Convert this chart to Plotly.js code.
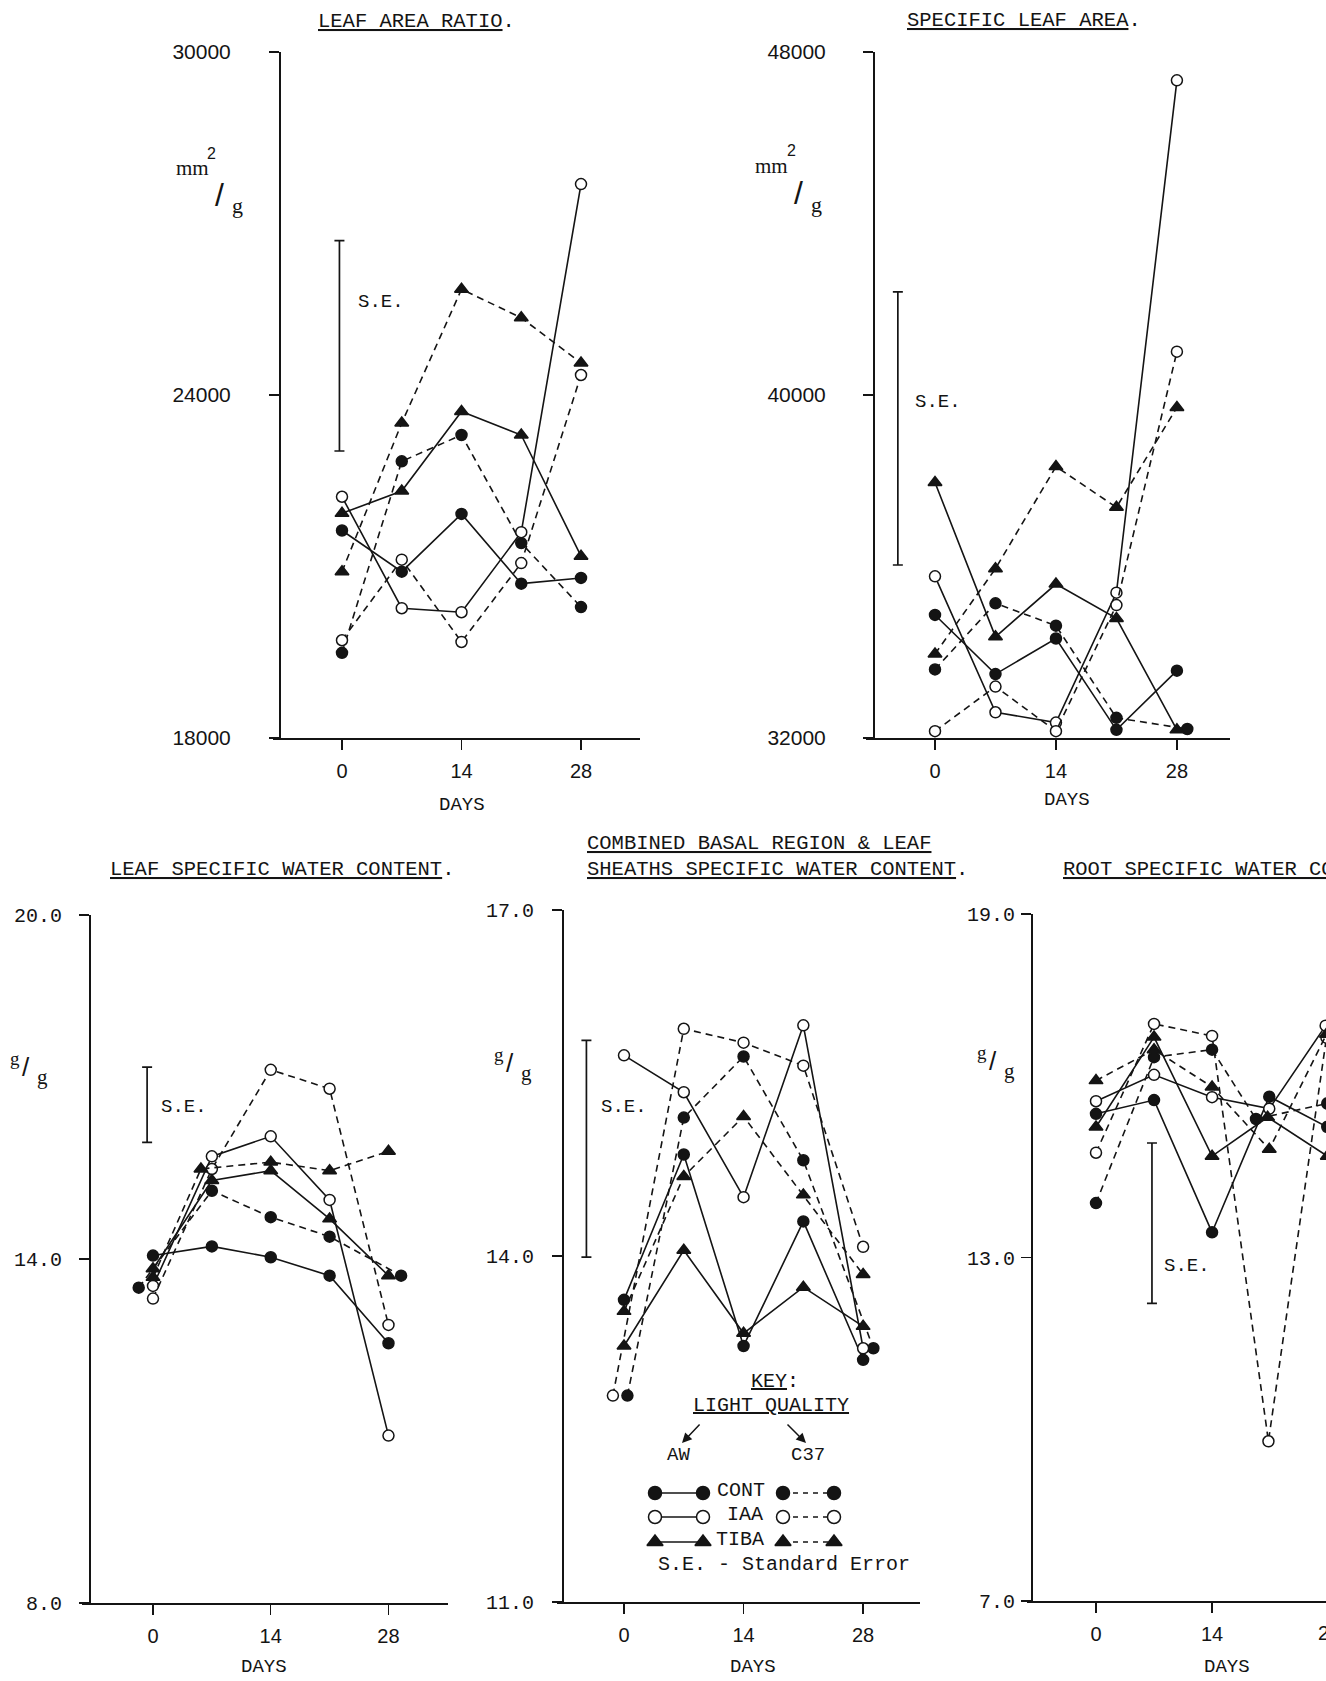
<!DOCTYPE html>
<html><head><meta charset="utf-8">
<script src="https://cdn.plot.ly/plotly-3.0.1.min.js"></script>
<style>html,body{margin:0;padding:0;background:#fff;overflow:hidden}#fig{width:1326px;height:1681px}</style>
</head><body><div id="fig"></div>
<script>
// ================= DATA =================
const days = [0, 7, 14, 21, 28];
const tickDays = [0, 14, 28];
const tickDayLabels = ['0', '14', '28'];

// Leaf area ratio (mm2/g)
const larContAW  = [21630, 20910, 21920, 20700, 20800];
const larContC37 = [19490, 22840, 23300, 21410, 20290];
const larIaaAW   = [22220, 20270, 20200, 21600, 27690];
const larIaaC37  = [19710, 21120, 19680, 21060, 24350];
const larTibaAW  = [21930, 22320, 23710, 23300, 21180];
const larTibaC37 = [20910, 23510, 25850, 25350, 24560];

// Specific leaf area (mm2/g)
const slaContAW  = [34870, 33490, 34320, 32190, 33570];
const slaContC37 = [33600, 35140, 34620, 32470, 32210];
const slaContC37Days = [0, 7, 14, 21, 29.2];
const slaIaaAW   = [35770, 32600, 32360, 35390, 47340];
const slaIaaC37  = [32160, 33200, 32160, 35100, 41010];
const slaTibaAW  = [37960, 34360, 35590, 34790, 32190];
const slaTibaC37 = [33960, 35950, 38330, 37380, 39710];

// Leaf specific water content (g/g)
const lswcContAW  = [14.06, 14.22, 14.03, 13.71, 12.53];
const lswcContC37 = [13.50, 15.19, 14.73, 14.39, 13.71];
const lswcContC37Days = [-1.7, 7, 14, 21, 29.5];
const lswcIaaAW   = [13.53, 15.79, 16.14, 15.03, 10.92];
const lswcIaaC37  = [13.31, 15.57, 17.30, 16.97, 12.85];
const lswcTibaAW  = [13.83, 15.37, 15.54, 14.70, 13.71];
const lswcTibaC37 = [13.68, 15.57, 15.69, 15.54, 15.88];
const lswcTibaC37Days = [0, 5.7, 14, 21, 28];

// Combined basal region & leaf sheaths specific water content (g/g)
const bswcContAW  = [13.62, 14.88, 13.22, 14.30, 13.10];
const bswcContC37 = [12.79, 15.20, 15.73, 14.83, 13.20];
const bswcContC37Days = [0.4, 7, 14, 21, 29.2];
const bswcIaaAW   = [15.74, 15.42, 14.51, 16.00, 13.20];
const bswcIaaC37  = [12.79, 15.97, 15.85, 15.65, 14.08];
const bswcIaaC37Days = [-1.3, 7, 14, 21, 28];
const bswcTibaAW  = [13.22, 14.05, 13.33, 13.73, 13.39];
const bswcTibaC37 = [13.52, 14.69, 15.21, 14.53, 13.84];

// Root specific water content (g/g)
const rswcContAW  = [15.51, 15.75, 13.44, 15.81, 15.28];
const rswcContAWDays = [0, 7, 14, 20.9, 27.9];
const rswcContC37 = [13.95, 16.50, 16.63, 15.42, 15.69];
const rswcContC37Days = [0, 7, 14, 19.3, 27.9];
const rswcIaaAW   = [15.73, 16.19, 15.80, 15.60, 17.05];
const rswcIaaAWDays = [0, 7, 14, 20.9, 27.7];
const rswcIaaC37  = [14.83, 17.08, 16.87, 9.79, 16.84];
const rswcIaaC37Days = [0, 7, 14, 20.8, 27.8];
const rswcTibaAW  = [15.28, 16.85, 14.77, 15.45, 14.77];
const rswcTibaAWDays = [0, 7, 14, 20.7, 27.9];
const rswcTibaC37 = [16.09, 16.63, 15.98, 14.89, 16.90];
const rswcTibaC37Days = [0, 7, 14, 20.9, 27.8];

// Standard error bars (one per panel)
const seDay  = [-0.3, -4.3, -0.7, -4.4, 6.75];
const seMid  = [24860, 39220, 16.69, 14.93, 13.60];
const seHalf = [1840, 3185, 0.655, 0.94, 1.40];

// y tick values / labels per panel
const yTickVals = [[18000, 24000, 30000], [32000, 40000, 48000], [8, 14, 20], [11, 14, 17], [7, 13, 19]];
const yTickText = [['18000', '24000', '30000'], ['32000', '40000', '48000'], ['8.0', '14.0', '20.0'], ['11.0', '14.0', '17.0'], ['7.0', '13.0', '19.0']];

// ================= LAYOUT / STYLE =================
const W = 1326, H = 1681;
const fx = p => p / W, fy = p => 1 - p / H;
const INK = '#141414';
const MONO = 'Liberation Mono, DejaVu Sans Mono, monospace';
const SANS = 'Liberation Sans, Arial, sans-serif';
const SERIF = 'Liberation Serif, DejaVu Serif, serif';
const DASH = '7px,5px';

const panels = [
  {L: 273, R: 640, x0: 342, ppd: 8.536, yAx: 280, top: 52, bottom: 738, yr: [18000, 30000], tf: {family: SANS, size: 21}, stand: 34},
  {L: 866, R: 1230, x0: 935, ppd: 8.64, yAx: 874, top: 52, bottom: 738, yr: [32000, 48000], tf: {family: SANS, size: 21}, stand: 33},
  {L: 82, R: 448, x0: 153, ppd: 8.41, yAx: 90, top: 915, bottom: 1603, yr: [8, 20], tf: {family: MONO, size: 20}, stand: 13},
  {L: 557, R: 920, x0: 624, ppd: 8.54, yAx: 563, top: 910, bottom: 1602, yr: [11, 17], tf: {family: MONO, size: 20}, stand: 14},
  {L: 1027, R: 1326, x0: 1096, ppd: 8.29, yAx: 1032, top: 914, bottom: 1601, yr: [7, 19], tf: {family: MONO, size: 20}, stand: 2}
];

const styles = [
  {symbol: 'circle', fill: INK, dash: 'solid', size: 11},
  {symbol: 'circle', fill: INK, dash: DASH, size: 11},
  {symbol: 'circle', fill: '#fff', dash: 'solid', size: 11},
  {symbol: 'circle', fill: '#fff', dash: DASH, size: 11},
  {symbol: 'triangle-up', fill: INK, dash: 'solid', size: 12},
  {symbol: 'triangle-up', fill: INK, dash: DASH, size: 12}
];

const panelSeries = [
  [[days, larContAW], [days, larContC37], [days, larIaaAW], [days, larIaaC37], [days, larTibaAW], [days, larTibaC37]],
  [[days, slaContAW], [slaContC37Days, slaContC37], [days, slaIaaAW], [days, slaIaaC37], [days, slaTibaAW], [days, slaTibaC37]],
  [[days, lswcContAW], [lswcContC37Days, lswcContC37], [days, lswcIaaAW], [days, lswcIaaC37], [days, lswcTibaAW], [lswcTibaC37Days, lswcTibaC37]],
  [[days, bswcContAW], [bswcContC37Days, bswcContC37], [days, bswcIaaAW], [bswcIaaC37Days, bswcIaaC37], [days, bswcTibaAW], [days, bswcTibaC37]],
  [[rswcContAWDays, rswcContAW], [rswcContC37Days, rswcContC37], [rswcIaaAWDays, rswcIaaAW], [rswcIaaC37Days, rswcIaaC37], [rswcTibaAWDays, rswcTibaAW], [rswcTibaC37Days, rswcTibaC37]]
];

const traces = [];
const layout = {
  width: W, height: H, margin: {l: 0, r: 0, t: 0, b: 0},
  paper_bgcolor: '#fff', plot_bgcolor: 'rgba(0,0,0,0)',
  showlegend: false, annotations: [], font: {color: INK}
};

panels.forEach((p, i) => {
  const n = i + 1;
  const xk = 'x' + n, yk = 'y' + n;
  layout['xaxis' + n] = {
    domain: [fx(p.L), fx(p.R)], range: [(p.L - p.x0) / p.ppd, (p.R - p.x0) / p.ppd],
    anchor: yk, showline: true, linewidth: 2, linecolor: INK, mirror: false,
    ticks: 'outside', ticklen: 10, tickwidth: 1.5, tickcolor: INK,
    tickmode: 'array', tickvals: tickDays, ticktext: tickDayLabels,
    tickfont: {family: SANS, size: 20, color: INK}, ticklabelstandoff: 4,
    showgrid: false, zeroline: false, fixedrange: true
  };
  layout['yaxis' + n] = {
    domain: [fy(p.bottom), fy(p.top)], range: p.yr,
    anchor: 'free', position: fx(p.yAx), showline: true, linewidth: 2, linecolor: INK,
    ticks: 'outside', ticklen: 10, tickwidth: 1.5, tickcolor: INK,
    tickmode: 'array', tickvals: yTickVals[i], ticktext: yTickText[i],
    tickfont: Object.assign({color: INK}, p.tf), ticklabelstandoff: p.stand,
    showgrid: false, zeroline: false, fixedrange: true
  };
  panelSeries[i].forEach((s, j) => {
    const st = styles[j];
    traces.push({
      x: s[0], y: s[1], xaxis: xk, yaxis: yk, type: 'scatter', mode: 'lines+markers',
      line: {color: INK, width: 1.6, dash: st.dash},
      marker: {symbol: st.symbol, size: st.size, color: st.fill, line: {color: INK, width: 1.5}},
      cliponaxis: true, hoverinfo: 'skip'
    });
  });
  // S.E. bar
  traces.push({
    x: [seDay[i]], y: [seMid[i]], xaxis: xk, yaxis: yk, type: 'scatter', mode: 'markers',
    marker: {size: 1, color: 'rgba(0,0,0,0)'},
    error_y: {type: 'data', array: [seHalf[i]], visible: true, color: INK, thickness: 1.7, width: 5},
    hoverinfo: 'skip'
  });
});

// ---- text helpers ----
function ann(text, px, py, o) {
  o = o || {};
  layout.annotations.push({
    text: text, x: fx(px), y: fy(py), xref: 'paper', yref: 'paper', showarrow: false,
    xanchor: o.xa || 'center', yanchor: o.ya || 'middle',
    font: {family: o.family || MONO, size: o.size || 20, color: INK}
  });
}
function arrow(tipX, tipY, tailX, tailY) {
  layout.annotations.push({
    text: '', x: fx(tipX), y: fy(tipY), xref: 'paper', yref: 'paper',
    ax: tailX - tipX, ay: tailY - tipY, axref: 'pixel', ayref: 'pixel',
    showarrow: true, arrowhead: 2, arrowsize: 1.3, arrowwidth: 1.5, arrowcolor: INK
  });
}
function mmPerG(px, py) {
  ann('mm', px, py, {family: SERIF, size: 21});
  ann('2', px + 20, py - 15, {family: SANS, size: 16});
  ann('/', px + 27, py + 27, {family: SANS, size: 32});
  ann('g', px + 45, py + 38, {family: SERIF, size: 22});
}
function gPerG(px, py) {
  ann('g', px, py, {family: SERIF, size: 19});
  ann('/', px + 11, py + 9, {family: SANS, size: 26});
  ann('g', px + 27, py + 19, {family: SERIF, size: 21});
}

// titles
ann('<u>LEAF AREA RATIO</u>.', 416, 22, {size: 20.5});
ann('<u>SPECIFIC LEAF AREA</u>.', 1024, 20, {size: 20.5});
ann('<u>LEAF SPECIFIC WATER CONTENT</u>.', 282, 869, {size: 20.5});
ann('<u>COMBINED BASAL REGION &amp; LEAF</u>', 585, 844, {size: 20.5, xa: 'left'});
ann('<u>SHEATHS SPECIFIC WATER CONTENT</u>.', 585, 869, {size: 20.5, xa: 'left'});
ann('<u>ROOT SPECIFIC WATER CONTENT</u>.', 1061, 869, {size: 20.5, xa: 'left'});

// axis titles
ann('DAYS', 462, 805, {size: 19});
ann('DAYS', 1067, 800, {size: 19});
ann('DAYS', 264, 1667, {size: 19});
ann('DAYS', 753, 1667, {size: 19});
ann('DAYS', 1227, 1667, {size: 19});
ann('28', 1329, 1633, {family: SANS, size: 20});

// units
mmPerG(192, 168);
mmPerG(771, 166);
gPerG(15, 1058);
gPerG(499, 1054);
gPerG(982, 1052);

// S.E. labels
ann('S.E.', 356, 302, {xa: 'left', size: 19});
ann('S.E.', 913, 402, {xa: 'left', size: 19});
ann('S.E.', 159, 1107, {xa: 'left', size: 19});
ann('S.E.', 599, 1107, {xa: 'left', size: 19});
ann('S.E.', 1162, 1266, {xa: 'left', size: 19});

// ---- key ----
ann('<u>KEY</u>:', 775, 1381);
ann('<u>LIGHT QUALITY</u>', 771, 1405);
arrow(682, 1443, 701, 1423);
arrow(806, 1443, 786, 1423);
ann('AW', 678, 1455, {size: 19});
ann('C37', 808, 1455, {size: 19});
ann('CONT', 741, 1490);
ann('IAA', 745, 1514);
ann('TIBA', 740, 1539);
ann('S.E. - Standard Error', 784, 1564);

const keyRowY = [1493, 1517, 1542];
const keyAW = [655, 703];
const keyC37 = [783, 834];
layout.xaxis6 = {domain: [0, 1], range: [0, W], visible: false, fixedrange: true};
layout.yaxis6 = {domain: [0, 1], range: [H, 0], visible: false, fixedrange: true};
keyRowY.forEach((ky, r) => {
  [[keyAW, styles[2 * r]], [keyC37, styles[2 * r + 1]]].forEach(pair => {
    const st = pair[1];
    traces.push({
      x: pair[0], y: [ky, ky], xaxis: 'x6', yaxis: 'y6', type: 'scatter', mode: 'lines+markers',
      line: {color: INK, width: 1.5, dash: st.dash === 'solid' ? 'solid' : '5px,5px'},
      marker: {symbol: st.symbol, size: st.size + 2, color: st.fill, line: {color: INK, width: 1.5}},
      hoverinfo: 'skip'
    });
  });
});

Plotly.newPlot('fig', traces, layout, {staticPlot: true, displayModeBar: false});
</script></body></html>
